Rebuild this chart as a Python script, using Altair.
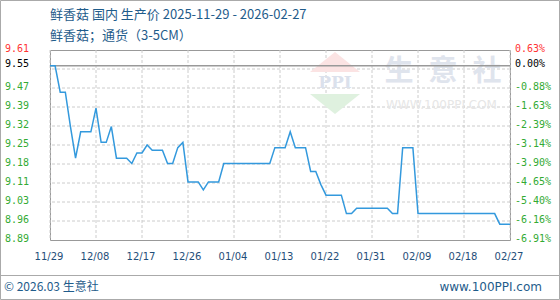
import altair as alt
import pandas as pd

# ---------------- data ----------------
start_date = "2025-11-29"
prices = [
    9.55, 9.55, 9.45, 9.45, 9.32, 9.20, 9.30, 9.30, 9.30, 9.39,
    9.26, 9.26, 9.32, 9.20, 9.20, 9.20, 9.18, 9.22, 9.22, 9.25,
    9.23, 9.23, 9.23, 9.18, 9.18, 9.24, 9.26, 9.11, 9.11, 9.11,
    9.08, 9.11, 9.11, 9.11, 9.18, 9.18, 9.18, 9.18, 9.18, 9.18,
    9.18, 9.18, 9.18, 9.18, 9.24, 9.24, 9.24, 9.30, 9.24, 9.24,
    9.24, 9.15, 9.15, 9.10, 9.06, 9.06, 9.06, 9.06, 8.99, 8.99,
    9.01, 9.01, 9.01, 9.01, 9.01, 9.01, 9.01, 8.99, 8.99, 9.24,
    9.24, 9.24, 8.99, 8.99, 8.99, 8.99, 8.99, 8.99, 8.99, 8.99,
    8.99, 8.99, 8.99, 8.99, 8.99, 8.99, 8.99, 8.99, 8.95, 8.95,
    8.95,
]
dates = list(pd.date_range(start_date, periods=len(prices)).strftime("%Y-%m-%d"))

x_tick_dates = ["2025-11-29", "2025-12-08", "2025-12-17", "2025-12-26", "2026-01-04",
                "2026-01-13", "2026-01-22", "2026-01-31", "2026-02-09", "2026-02-18",
                "2026-02-27"]
x_tick_labels = ["11/29", "12/08", "12/17", "12/26", "01/04", "01/13",
                 "01/22", "01/31", "02/09", "02/18", "02/27"]

y_tick_values = [9.61, 9.55, 9.466, 9.394, 9.322, 9.25, 9.178, 9.106, 9.034, 8.962, 8.89]
y_tick_labels = ["9.61", "9.55", "9.47", "9.39", "9.32", "9.25", "9.18", "9.11", "9.03", "8.96", "8.89"]
y_pct_labels = ["0.63%", "0.00%", "-0.88%", "-1.63%", "-2.39%", "-3.14%", "-3.90%",
                "-4.65%", "-5.40%", "-6.16%", "-6.91%"]
y_tick_kind = ["max", "base"] + ["tick"] * 9

grid_values = [9.538, 9.466, 9.394, 9.322, 9.25, 9.178, 9.106, 9.034, 8.962]
base_value = [9.55]

title_line1 = "鲜香菇 国内 生产价 2025-11-29 - 2026-02-27"
title_line2 = "鲜香菇；通货（3-5CM）"
footer_left = "© 2026.03 生意社"
footer_right = "www.100PPI.com"
wm_chars = ["生", "意", "社"]
wm_url = "WWW.100PPI.COM"
wm_logo = "PPI"

# ---------------- frames ----------------
df_line = pd.DataFrame({"date": dates, "value": prices})
df_xt = pd.DataFrame({"date": x_tick_dates, "label": x_tick_labels})
df_yt = pd.DataFrame({"value": y_tick_values, "label": y_tick_labels,
                      "pct": y_pct_labels, "kind": y_tick_kind})
df_grid = pd.DataFrame({"value": grid_values})
df_base = pd.DataFrame({"value": base_value})
one = pd.DataFrame({"k": [0]})

x_scale = alt.Scale(type="utc", nice=False,
                    domain=[alt.DateTime(year=2025, month=11, date=29, utc=True),
                            alt.DateTime(year=2026, month=2, date=27, utc=True)])
y_scale = alt.Scale(domain=[8.89, 9.61], nice=False, zero=False)

X = alt.X("date:T", scale=x_scale, axis=None)
Y = alt.Y("value:Q", scale=y_scale, axis=None)

FONT_CJK = "Noto Sans CJK SC"
BLUE_TXT = "#1f5c8b"

vgrid = alt.Chart(df_xt).mark_rule(color="#cccccc", strokeDash=[3, 2], strokeWidth=1).encode(x=X)
hgrid = alt.Chart(df_grid).mark_rule(color="#cccccc", strokeDash=[3, 2], strokeWidth=1).encode(y=Y)
base = alt.Chart(df_base).mark_rule(color="#999999", strokeWidth=1.5).encode(y=Y)

# watermark
wm_top = alt.Chart(one).mark_point(shape="M-1,0.4L1,0.4L0,-0.4Z", filled=True,
                                   color="#fbe3e3", opacity=1, size=2500).encode(
    x=alt.value(285), y=alt.value(12))
wm_bot = alt.Chart(one).mark_point(shape="M-1,-0.4L1,-0.4L0,0.4Z", filled=True,
                                   color="#dff1df", opacity=1, size=2500).encode(
    x=alt.value(285), y=alt.value(54))
wm_ppi = alt.Chart(one).mark_text(font="DejaVu Serif", fontSize=17, fontWeight="bold",
                                  color="#dbe1ec", baseline="middle").encode(
    x=alt.value(285), y=alt.value(33), text=alt.value(wm_logo))
wm_layers = []
for i, ch in enumerate(wm_chars):
    wm_layers.append(alt.Chart(one).mark_text(font=FONT_CJK, fontSize=29, fontWeight="bold",
                                              color="#dfe4ed", baseline="middle").encode(
        x=alt.value(349 + 44 * i), y=alt.value(22), text=alt.value(ch)))
wm_url_t = alt.Chart(one).mark_text(font="DejaVu Sans", fontSize=12, color="#e6e6e6",
                                    align="left", baseline="middle").encode(
    x=alt.value(336), y=alt.value(55), text=alt.value(wm_url))

line = alt.Chart(df_line).mark_line(color="#3399dd", strokeWidth=1.5).encode(x=X, y=Y)

kind_color = alt.Color("kind:N", legend=None,
                       scale=alt.Scale(domain=["max", "base", "tick"],
                                       range=["#ff3333", "#000000", "#33aa33"]))
left_lab = alt.Chart(df_yt).mark_text(font="DejaVu Sans Mono", fontSize=10, align="left",
                                      baseline="middle", dy=-1.5).encode(
    y=Y, x=alt.value(-45), text="label:N", color=kind_color)
right_lab = alt.Chart(df_yt).mark_text(font="DejaVu Sans Mono", fontSize=10, align="left",
                                       baseline="middle", dy=-1.5).encode(
    y=Y, x=alt.value(465), text="pct:N", color=kind_color)
x_lab = alt.Chart(df_xt).mark_text(font="DejaVu Sans", fontSize=10, color="#1f4e79",
                                   baseline="middle", dx=-1).encode(
    x=X, y=alt.value(207), text="label:N")

t1 = alt.Chart(one).mark_text(font=FONT_CJK, fontSize=13, color=BLUE_TXT, align="left",
                              baseline="middle").encode(
    x=alt.value(0), y=alt.value(-35), text=alt.value(title_line1))
t2 = alt.Chart(one).mark_text(font=FONT_CJK, fontSize=13, color=BLUE_TXT, align="left",
                              baseline="middle").encode(
    x=alt.value(0), y=alt.value(-14.5), text=alt.value(title_line2))
sep = alt.Chart(one).mark_rule(color="#aaaaaa", strokeWidth=1).encode(
    x=alt.value(-50), x2=alt.value(510), y=alt.value(225.5))
f1 = alt.Chart(one).mark_text(font=FONT_CJK, fontSize=12, color=BLUE_TXT, align="left",
                              baseline="middle").encode(
    x=alt.value(-46), y=alt.value(236.5), text=alt.value(footer_left))
f2 = alt.Chart(one).mark_text(font="DejaVu Sans", fontSize=12, color=BLUE_TXT, align="right",
                              baseline="middle").encode(
    x=alt.value(492), y=alt.value(236.5), text=alt.value(footer_right))
border = alt.Chart(one).mark_rect(fillOpacity=0, stroke="#aaaaaa", strokeWidth=1).encode(
    x=alt.value(-49.5), x2=alt.value(509.5), y=alt.value(-49.5), y2=alt.value(249.5))

chart = alt.layer(
    vgrid, hgrid, wm_top, wm_bot, wm_ppi, *wm_layers, wm_url_t, base, line,
    left_lab, right_lab, x_lab, t1, t2, sep, f1, f2, border
).properties(
    width=460, height=190, autosize="none",
    padding={"left": 50, "top": 50, "right": 50, "bottom": 60},
    background="white",
).configure_view(stroke="#999999", strokeWidth=1)

chart.save("out.html", embed_options={"renderer": "svg", "actions": False})
